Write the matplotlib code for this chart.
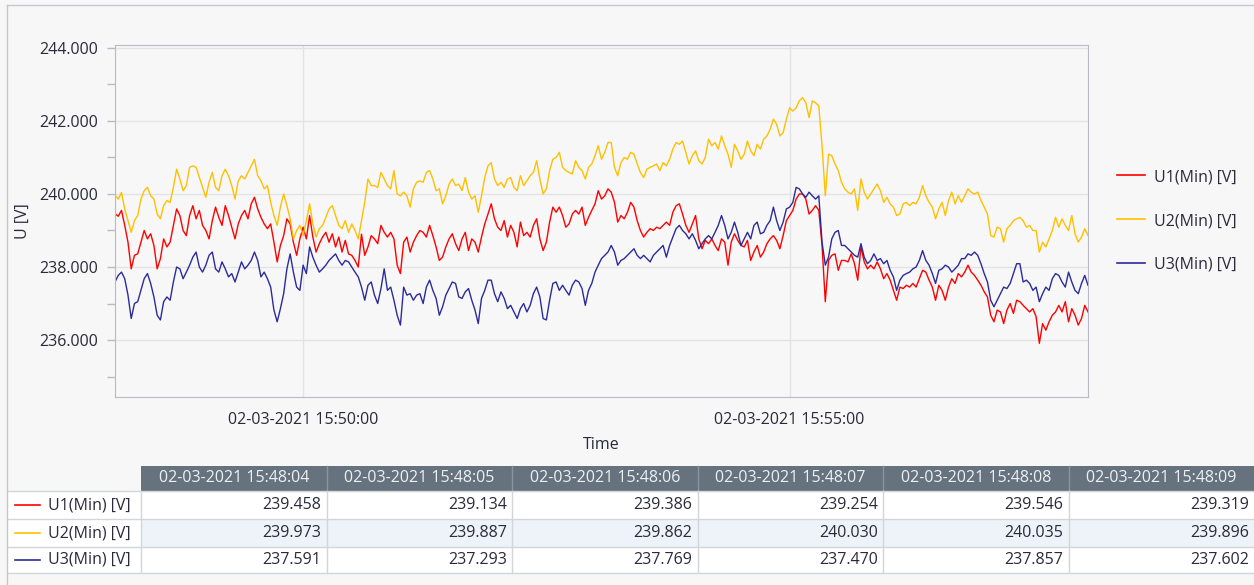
import matplotlib
matplotlib.use("Agg")
import matplotlib.pyplot as plt
import matplotlib.dates as mdates
from matplotlib.lines import Line2D
from matplotlib.patches import Rectangle
import pandas as pd

plt.rcParams['font.family'] = ['Open Sans', 'DejaVu Sans']

# minimum phase voltages, one sample every 2 s from 15:48:04
start = "2021-03-02 15:48:04"
step_s = 2

u1 = [
    239.46, 239.39, 239.55, 239.14, 238.68, 237.95, 238.32, 238.36, 238.68, 239.0,
    238.77, 238.91, 238.59, 237.95, 238.23, 238.77, 238.55, 238.68, 239.14, 239.59,
    239.41, 239.0, 238.86, 239.41, 239.68, 239.32, 239.55, 239.14, 239.0, 238.77,
    239.27, 239.64, 239.36, 239.14, 239.68, 239.41, 239.09, 238.77, 239.18, 239.41,
    239.55, 239.32, 239.73, 239.91, 239.59, 239.36, 239.18, 239.05, 239.18, 238.68,
    238.14, 238.59, 238.86, 239.32, 239.18, 238.68, 238.32, 238.77, 239.09, 238.77,
    239.41, 238.82, 238.41, 238.64, 238.82, 238.95, 238.68, 238.91, 238.55, 238.82,
    238.41, 238.73, 238.36, 238.32, 238.18, 238.0,
    238.9, 238.32, 238.55, 238.86, 238.77, 238.64, 239.14, 238.95, 238.82, 238.95,
    238.77, 238.05, 237.82, 238.68, 238.82, 238.41, 238.68, 238.86, 239.0, 238.95,
    238.82, 239.14, 238.86, 238.55, 238.18, 238.27, 238.55, 238.77, 238.91, 238.64,
    238.45, 238.77, 238.95, 238.45, 238.77, 238.68, 238.41, 238.82, 239.18, 239.45,
    239.73, 239.32, 239.09, 239.0, 239.27, 238.82, 239.14, 238.95, 238.55, 239.23,
    238.86, 238.95, 238.82, 239.14, 239.32, 238.77, 238.45, 238.68, 239.23, 239.64,
    239.5, 239.64, 239.41, 239.09, 239.18, 239.45, 239.55, 239.45, 239.64, 239.14,
    239.36, 239.55, 239.73, 240.09,
    239.86, 239.95, 240.14, 240.05, 239.77, 239.23, 239.41, 239.32, 239.5, 239.77,
    239.64, 239.27, 239.0, 238.82, 238.95, 239.05, 239.0, 239.09, 239.05, 239.14,
    239.23, 239.14, 239.5, 239.68, 239.73, 239.45, 239.14, 238.95, 239.18, 239.41,
    238.77, 238.5, 238.73, 238.64, 238.77, 238.59, 238.45, 238.77, 238.68, 238.05,
    238.68, 238.91, 238.73, 238.59, 238.55, 238.73, 238.18, 238.41, 238.59, 238.27,
    238.41, 238.64, 238.77, 238.86, 238.73, 238.5, 238.86, 239.27, 239.41, 239.55,
    239.86, 240.0, 240.0, 239.86, 239.45, 239.55, 239.68, 239.55, 238.59, 237.05,
    238.18, 238.32, 238.36, 237.91, 238.18,
    238.18, 238.14, 238.36, 238.09, 237.64, 238.55, 238.14, 237.95, 238.05, 237.95,
    238.14, 237.95, 237.68, 237.82, 237.64, 237.36, 237.09, 237.45, 237.41, 237.5,
    237.45, 237.55, 237.45, 237.68, 237.91, 237.86, 237.64, 237.45, 237.09, 237.5,
    237.36, 237.09, 237.45, 237.68, 237.55, 237.82, 237.73, 237.86, 238.05, 237.86,
    237.77, 237.64, 237.5, 237.32, 237.18, 236.68, 236.5, 236.82, 236.77, 236.45,
    236.82, 237.0, 236.73, 237.09, 237.05, 236.95, 236.86, 236.77, 236.86, 236.64,
    235.91, 236.45, 236.27, 236.5, 236.68, 236.77, 236.95, 236.77, 237.05, 236.5,
    236.86, 236.68, 236.41, 236.59, 236.95, 236.77,
]

u2 = [
    239.97, 239.86, 240.04, 239.59, 239.27, 238.95, 239.27, 239.41, 239.86, 240.09,
    240.18, 239.95, 239.86, 239.45, 239.32, 239.68, 239.82, 239.77, 240.18, 240.68,
    240.41, 240.09, 240.23, 240.73, 240.77, 240.73, 240.45, 240.18, 239.91, 240.32,
    240.59, 240.18, 240.09, 240.5, 240.68, 240.5, 240.23, 239.86, 240.36, 240.5,
    240.41, 240.59, 240.77, 240.95, 240.5, 240.36, 240.14, 240.23, 239.77, 239.41,
    239.14, 239.64, 240.0, 239.68, 239.32, 238.77, 239.0, 239.14, 238.86, 239.27,
    239.73, 239.18, 238.82, 239.05, 239.14, 239.36, 239.59, 239.68, 239.41, 239.14,
    239.05, 239.27, 238.95, 239.18, 239.0, 238.77,
    239.27, 239.77, 240.41, 240.23, 240.23, 240.18, 240.59, 240.41, 240.23, 240.14,
    240.64, 240.0, 239.95, 240.05, 239.95, 239.64, 240.14, 240.32, 240.36, 240.32,
    240.59, 240.64, 240.41, 240.09, 240.14, 239.73, 239.95, 240.27, 240.41, 240.23,
    240.27, 240.09, 240.45, 240.05, 239.86, 239.95, 239.5, 239.95, 240.45, 240.77,
    240.86, 240.41, 240.23, 240.32, 240.18, 240.41, 240.45, 240.18, 240.09, 240.5,
    240.23, 240.36, 240.5, 240.59, 240.91, 240.41, 240.0, 240.14, 240.64, 240.95,
    241.0, 241.14, 240.73, 240.64, 240.59, 240.55, 240.91, 240.73, 240.64, 240.41,
    240.73, 240.82, 241.05, 241.32,
    240.95, 241.14, 241.41, 241.41, 240.73, 240.5, 240.86, 241.0, 240.95, 241.14,
    241.09, 240.82, 240.59, 240.45, 240.68, 240.73, 240.77, 240.82, 240.64, 240.86,
    240.77, 240.95, 241.23, 241.41, 241.36, 241.45, 241.14, 240.82, 241.05, 241.18,
    240.91, 240.82, 241.0, 241.5, 241.32, 241.41, 241.23, 241.59, 241.32, 241.09,
    240.73, 241.36, 241.18, 240.95, 241.09, 241.45, 241.18, 241.05, 241.36, 241.23,
    241.5, 241.59, 241.77, 242.05, 241.91, 241.59, 241.68, 242.05, 242.36, 242.27,
    242.36, 242.55, 242.64, 242.5, 242.09, 242.55, 242.5, 242.41, 241.32, 239.95,
    241.09, 241.05, 240.82, 240.64, 240.32,
    240.14, 240.05, 240.0, 240.14, 239.55, 240.41, 240.05, 239.86, 240.0, 240.14,
    240.27, 240.09, 239.77, 239.91, 239.73, 239.64, 239.41, 239.45, 239.73, 239.77,
    239.68, 239.77, 239.73, 239.91, 240.23, 239.95, 239.77, 239.64, 239.32, 239.59,
    239.77, 239.41, 239.82, 240.05, 239.73, 239.95, 239.77, 239.95, 240.14, 240.05,
    240.0, 240.05, 239.82, 239.64, 239.45, 238.86, 238.82, 239.09, 239.05, 238.68,
    239.05, 239.14, 239.27, 239.32, 239.36, 239.27, 239.09, 239.14, 239.0, 239.0,
    238.41, 238.68, 238.55, 238.77, 239.0, 239.36, 239.09, 239.32, 239.14, 239.0,
    239.41, 238.91, 238.68, 238.82, 239.05, 238.86,
]

u3 = [
    237.59, 237.77, 237.86, 237.68, 237.23, 236.59, 237.0, 237.05, 237.36, 237.68,
    237.82, 237.55, 237.18, 236.68, 236.55, 237.05, 237.18, 237.09, 237.59, 238.0,
    237.95, 237.68, 237.86, 238.05, 238.27, 238.41, 238.0, 237.86, 238.05, 238.32,
    238.41, 237.95, 237.86, 238.14, 237.95, 237.73, 237.82, 237.59, 237.86, 238.14,
    237.95, 238.05, 238.18, 238.41, 238.18, 237.73, 237.86, 237.68, 237.45, 236.82,
    236.5, 236.86, 237.27, 237.95, 238.36, 237.86, 237.45, 237.36, 238.05, 237.82,
    238.55, 238.27, 238.05, 237.86, 237.95, 238.05, 238.18, 238.27, 238.36, 238.18,
    238.05, 238.18, 238.14, 238.0, 237.86, 237.73,
    237.45, 237.09, 237.5, 237.59, 237.23, 237.0, 237.41, 237.95, 237.36, 237.45,
    237.09, 236.68, 236.41, 237.45, 237.23, 237.27, 237.09, 237.23, 237.27, 237.0,
    237.45, 237.64, 237.36, 237.14, 236.68, 236.91, 237.23, 237.41, 237.59, 237.55,
    237.18, 237.14, 237.32, 237.41, 237.09, 236.82, 236.45, 237.14, 237.36, 237.64,
    237.64, 237.27, 237.05, 237.32, 237.14, 236.86, 236.95, 236.77, 236.59, 236.86,
    237.0, 236.77, 236.95, 237.27, 237.45, 237.18, 236.59, 236.55, 237.09, 237.55,
    237.59, 237.36, 237.5, 237.36, 237.23, 237.5, 237.64, 237.59, 237.41, 236.95,
    237.36, 237.55, 237.86, 238.05,
    238.23, 238.32, 238.41, 238.59, 238.41, 238.05, 238.18, 238.23, 238.32, 238.41,
    238.5, 238.32, 238.23, 238.32, 238.23, 238.14, 238.32, 238.41, 238.5, 238.59,
    238.27, 238.59, 238.82, 239.05, 239.14, 239.0, 238.91, 238.77, 238.91, 238.73,
    238.5, 238.64, 238.77, 238.86, 238.77, 238.95, 239.14, 239.41, 239.14, 238.77,
    238.95, 239.23, 238.95, 238.59, 238.77, 238.95, 238.77, 239.14, 239.23, 238.91,
    238.95, 239.14, 239.27, 239.64, 239.27, 239.0, 239.23, 239.59, 239.64, 239.77,
    240.18, 240.14, 240.0, 239.91, 240.05, 239.95, 239.86, 239.95, 238.68, 238.05,
    238.27, 238.77, 238.95, 239.0, 238.59,
    238.59, 238.5, 238.41, 238.32, 238.27, 238.64, 238.27, 238.09, 238.18, 238.36,
    238.18, 238.23, 238.09, 238.18, 237.91, 237.73, 237.36, 237.64, 237.77, 237.82,
    237.86, 237.95, 238.0, 238.18, 238.45, 238.18, 238.05, 237.82, 237.55, 237.91,
    237.95, 238.05, 238.0, 237.86, 237.95, 238.05, 238.23, 238.23, 238.36, 238.32,
    238.41, 238.32, 238.09, 237.82, 237.59, 237.09, 236.91, 237.09, 237.27, 237.45,
    237.41, 237.55, 237.82, 238.09, 238.09, 237.59, 237.64, 237.55, 237.36, 237.45,
    237.05, 237.27, 237.45, 237.36, 237.68, 237.82, 237.77, 237.59, 237.45, 237.86,
    237.59, 237.36, 237.27, 237.55, 237.77, 237.5,
]

names = ["U1(Min) [V]", "U2(Min) [V]", "U3(Min) [V]"]
colors = ["#ff0000", "#ffc000", "#2b2b9a"]

# first rows of the data grid under the chart
table_times = ["02-03-2021 15:48:04", "02-03-2021 15:48:05", "02-03-2021 15:48:06",
               "02-03-2021 15:48:07", "02-03-2021 15:48:08", "02-03-2021 15:48:09"]
table_u1 = [239.458, 239.134, 239.386, 239.254, 239.546, 239.319]
table_u2 = [239.973, 239.887, 239.862, 240.030, 240.035, 239.896]
table_u3 = [237.591, 237.293, 237.769, 237.470, 237.857, 237.602]

times = pd.date_range(start, periods=len(u1), freq=f"{step_s}s")

W, H = 1254, 585
BG = "#f7f7f7"
TXT = "#2a2a3a"
FS = 11.5
fig = plt.figure(figsize=(W / 100, H / 100), dpi=100, facecolor=BG)


def box(x0, y0, x1, y1):
    return [x0 / W, 1 - y1 / H, (x1 - x0) / W, (y1 - y0) / H]


ax = fig.add_axes(box(115, 45, 1088, 397))
ax.set_facecolor(BG)
for s, c in zip([u1, u2, u3], colors):
    ax.plot(times, s, color=c, lw=1.0)

ax.set_xlim(times[0], times[-1])
ax.set_ylim(234.44, 244.08)
ax.set_yticks([236, 238, 240, 242, 244])
ax.set_yticks([235, 237, 239, 241, 243], minor=True)
ax.yaxis.set_major_formatter(matplotlib.ticker.FormatStrFormatter("%.3f"))
ax.set_xticks([pd.Timestamp("2021-03-02 15:50:00"), pd.Timestamp("2021-03-02 15:55:00")])
ax.xaxis.set_major_formatter(mdates.DateFormatter("%d-%m-%Y %H:%M:%S"))
ax.grid(True, which="major", color="#e3e3e3", lw=1.0)
ax.set_axisbelow(True)
for sp in ax.spines.values():
    sp.set_color("#b8bcc0")
ax.tick_params(axis="y", which="both", length=6, width=1, color="#b8bcc0",
               labelsize=FS, labelcolor=TXT, pad=6)
ax.tick_params(axis="x", length=0, labelsize=FS, labelcolor=TXT, pad=11)
ax.set_xlabel("Time", fontsize=FS, color=TXT, labelpad=6)
ax.set_ylabel("U [V]", fontsize=FS, color=TXT, labelpad=6)

handles = [Line2D([], [], color=c, lw=1.2) for c in colors]
fig.legend(handles, names, loc="center left", bbox_to_anchor=(1117 / W, 1 - 221 / H),
           frameon=False, fontsize=FS, labelcolor=TXT, handlelength=1.75,
           handletextpad=0.55, labelspacing=1.75, borderpad=0, borderaxespad=0)

# data grid
tab = fig.add_axes(box(0, 455, W, 585))
tab.set_xlim(0, W)
tab.set_ylim(585, 455)
tab.axis("off")
col_x = [141 + i * (W - 141) / 6 for i in range(7)]
rows_y = [466, 491, 519, 547, 573]
grid_c = "#d2d6da"
tab.add_patch(Rectangle((col_x[0], rows_y[0]), W - col_x[0], rows_y[1] - rows_y[0],
                        facecolor="#66727e", edgecolor="none"))
for i, lab in enumerate(table_times):
    tab.text((col_x[i] + col_x[i + 1]) / 2, (rows_y[0] + rows_y[1]) / 2, lab,
             ha="center", va="center", fontsize=FS, color="#eef1f4")
    if i:
        tab.plot([col_x[i]] * 2, rows_y[:2], color="#8a949e", lw=1)
for r, (vals, name, c) in enumerate(zip([table_u1, table_u2, table_u3], names, colors)):
    y0, y1 = rows_y[r + 1], rows_y[r + 2]
    fill = "#eef3f9" if r == 1 else "white"
    tab.add_patch(Rectangle((7, y0), col_x[0] - 7, y1 - y0, facecolor="white",
                            edgecolor="none"))
    tab.add_patch(Rectangle((col_x[0], y0), W - col_x[0], y1 - y0, facecolor=fill,
                            edgecolor="none"))
    ym = (y0 + y1) / 2
    tab.plot([15, 40], [ym, ym], color=c, lw=1.2)
    tab.text(48, ym, name, ha="left", va="center", fontsize=FS, color=TXT)
    for i, v in enumerate(vals):
        tab.text(col_x[i + 1] - 5, ym, f"{v:.3f}", ha="right", va="center",
                 fontsize=FS, color=TXT)
for y in rows_y[1:]:
    tab.plot([7, W], [y, y], color=grid_c, lw=1)
for x in col_x[:-1]:
    tab.plot([x, x], [rows_y[1], rows_y[-1]], color=grid_c, lw=1)

# outer frame of the view
fig.add_artist(Line2D([7 / W, 7 / W], [0, 1 - 5 / H], color="#c4c8cc", lw=1))
fig.add_artist(Line2D([7 / W, 1], [1 - 5 / H, 1 - 5 / H], color="#c4c8cc", lw=1))

fig.savefig("out.png", dpi=100, facecolor=BG)
